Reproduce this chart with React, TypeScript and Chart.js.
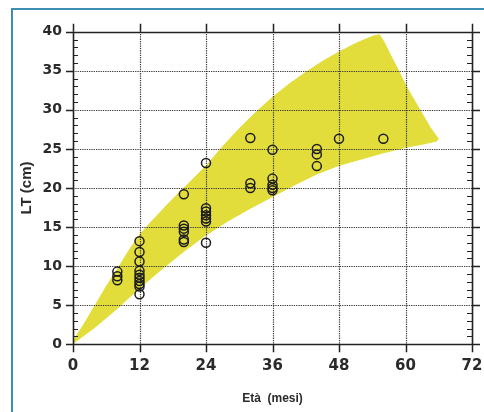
import React, { useEffect, useRef } from "react";
import { Chart, registerables } from "chart.js";

Chart.register(...registerables);

// ---- Data ----
const X_TICKS = [0, 12, 24, 36, 48, 60, 72];
const Y_TICKS = [0, 5, 10, 15, 20, 25, 30, 35, 40];

// observed lengths (cm) grouped by age (months)
const obsAges = [8, 12, 20, 24, 32, 36, 44, 48, 56];
const ltAt8 = [9.3, 8.7, 8.2];
const ltAt12 = [13.2, 11.8, 10.6, 9.4, 8.9, 8.5, 8.1, 7.7, 7.4, 6.4];
const ltAt20 = [19.2, 15.2, 14.8, 14.4, 13.4, 13.1];
const ltAt24 = [23.2, 17.4, 17.0, 16.5, 16.1, 15.7, 13.0];
const ltAt32 = [26.4, 20.6, 20.0];
const ltAt36 = [24.9, 21.2, 20.4, 20.0, 19.7];
const ltAt44 = [25.0, 24.3, 22.8];
const ltAt48 = [26.3];
const ltAt56 = [26.3];
const obsLT = [ltAt8, ltAt12, ltAt20, ltAt24, ltAt32, ltAt36, ltAt44, ltAt48, ltAt56];

// yellow growth band outline
const bandUpperAge = [0, 2, 4, 6, 8, 10, 12, 14, 16, 18, 20, 22, 24, 27, 30, 33, 36, 39, 42, 45, 48, 51, 53, 54.5, 55.3];
const bandUpperLT = [0.4, 2.6, 5.0, 7.4, 9.6, 11.9, 14.0, 15.6, 17.1, 18.6, 20.0, 21.4, 22.8, 25.3, 27.6, 29.7, 31.6, 33.3, 34.8, 36.2, 37.4, 38.5, 39.1, 39.5, 39.6];
const bandRightAge = [56.2, 57.3, 58.4, 60.2, 62.6, 64.4, 65.9, 65.6];
const bandRightLT = [38.6, 37.0, 35.5, 32.9, 30.0, 27.8, 26.3, 26.0];
const bandLowerAge = [63, 60, 56, 52, 48, 44, 40, 36, 32, 28, 24, 20, 16, 12, 8, 4, 0];
const bandLowerLT = [25.6, 25.2, 24.5, 23.7, 22.9, 21.8, 20.4, 18.9, 17.4, 15.8, 14.0, 11.9, 9.6, 7.2, 4.6, 2.2, 0.1];

const X_MIN = 0, X_MAX = 72, Y_MIN = 0, Y_MAX = 40;

const bandPoints = [
  ...bandUpperAge.map((x, i) => ({ x, y: bandUpperLT[i] })),
  ...bandRightAge.map((x, i) => ({ x, y: bandRightLT[i] })),
  ...bandLowerAge.map((x, i) => ({ x, y: bandLowerLT[i] })),
];
const obsPoints = obsAges.flatMap((a, i) => obsLT[i].map((y) => ({ x: a, y })));

const decorPlugin = {
  id: "decor",
  beforeDraw(chart: any) {
    const ctx = chart.ctx;
    ctx.save();
    ctx.fillStyle = "#ffffff";
    ctx.fillRect(0, 0, chart.width, chart.height);
    ctx.strokeStyle = "#3d8db3";
    ctx.lineWidth = 2;
    ctx.strokeRect(12, 9, chart.width + 20, chart.height + 20);
    ctx.restore();
  },
  afterDatasetDraw(chart: any, args: any) {
    if (args.index !== 0) return;
    const ctx = chart.ctx;
    const xs = chart.scales.x;
    const ys = chart.scales.y;
    const L = xs.getPixelForValue(X_MIN);
    const R = xs.getPixelForValue(X_MAX);
    const T = ys.getPixelForValue(Y_MAX);
    const B = ys.getPixelForValue(Y_MIN);
    const r = (v: number) => Math.round(v) + 0.5;
    ctx.save();
    // dotted interior grid
    ctx.strokeStyle = "#3a3a3a";
    ctx.lineWidth = 1.2;
    ctx.setLineDash([1.3, 1]);
    for (const v of Y_TICKS) {
      if (v === Y_MIN || v === Y_MAX) continue;
      const py = r(ys.getPixelForValue(v));
      ctx.beginPath();
      ctx.moveTo(L, py);
      ctx.lineTo(R, py);
      ctx.stroke();
    }
    for (const v of X_TICKS) {
      if (v === X_MIN || v === X_MAX) continue;
      const px = r(xs.getPixelForValue(v));
      ctx.beginPath();
      ctx.moveTo(px, T);
      ctx.lineTo(px, B);
      ctx.stroke();
    }
    ctx.setLineDash([]);
    ctx.strokeStyle = "#222";
    // major ticks (outward) on y axes
    ctx.lineWidth = 1.5;
    for (const v of Y_TICKS) {
      const py = r(ys.getPixelForValue(v));
      ctx.beginPath();
      ctx.moveTo(L - 7, py);
      ctx.lineTo(L, py);
      ctx.moveTo(R, py);
      ctx.lineTo(R + 8, py);
      ctx.stroke();
    }
    // major ticks on x axes (top and bottom)
    for (const v of X_TICKS) {
      const px = r(xs.getPixelForValue(v));
      ctx.beginPath();
      ctx.moveTo(px, T - 8);
      ctx.lineTo(px, T);
      ctx.moveTo(px, B);
      ctx.lineTo(px, B + 8);
      ctx.stroke();
    }
    // solid frame lines
    ctx.lineWidth = 1.6;
    ctx.beginPath();
    ctx.moveTo(L, r(T));
    ctx.lineTo(R, r(T));
    ctx.moveTo(L, r(B));
    ctx.lineTo(R, r(B));
    ctx.moveTo(r(L), T);
    ctx.lineTo(r(L), B);
    ctx.moveTo(r(R), T);
    ctx.lineTo(r(R), B);
    ctx.stroke();
    // minor ticks every 1 cm
    ctx.lineWidth = 1;
    for (let v = Y_MIN + 1; v < Y_MAX; v++) {
      if (v % 5 === 0) continue;
      const py = r(ys.getPixelForValue(v));
      ctx.beginPath();
      ctx.moveTo(L, py);
      ctx.lineTo(L + 5, py);
      ctx.moveTo(R - 5, py);
      ctx.lineTo(R, py);
      ctx.stroke();
    }
    ctx.restore();
  },
};

export default function App() {
  const ref = useRef<HTMLCanvasElement | null>(null);
  useEffect(() => {
    if (!ref.current) return;
    const tickFontY = { family: "DejaVu Sans", size: 14, weight: "bold" as const };
    const tickFontX = { family: "DejaVu Sans", size: 15, weight: "bold" as const };
    const chart = new Chart(ref.current, {
      type: "scatter",
      data: {
        datasets: [
          {
            data: bandPoints,
            showLine: true,
            fill: "shape",
            backgroundColor: "rgb(226,221,58)",
            borderColor: "rgba(226,221,58,1)",
            borderWidth: 1,
            pointRadius: 0,
            tension: 0,
            order: 2,
          } as any,
          {
            data: obsPoints,
            showLine: false,
            pointRadius: 4.5,
            pointBorderWidth: 1.5,
            borderColor: "#1c1c1c",
            backgroundColor: "rgba(0,0,0,0)",
            pointBackgroundColor: "rgba(0,0,0,0)",
            order: 1,
          } as any,
        ],
      },
      options: {
        responsive: false,
        animation: false,
        devicePixelRatio: 1,
        layout: { padding: 0 },
        plugins: { legend: { display: false }, tooltip: { enabled: false } },
        scales: {
          x: {
            type: "linear",
            position: "bottom",
            min: X_MIN,
            max: X_MAX,
            afterBuildTicks: (s: any) => { s.ticks = X_TICKS.map((v) => ({ value: v })); },
            ticks: { font: tickFontX, color: "#2a2a2a", padding: 13, maxRotation: 0, autoSkip: false },
            grid: { display: false, drawTicks: false },
            border: { display: false },
            title: {
              display: true,
              text: "Età  (mesi)",
              font: { family: "Liberation Sans", size: 12, weight: "bold" },
              color: "#2a2a2a",
              padding: { top: 0, bottom: 6 },
            },
            afterFit: (s: any) => { s.height = 67.7; s.paddingLeft = 0; s.paddingRight = 0; },
          },
          y: {
            type: "linear",
            position: "left",
            min: Y_MIN,
            max: Y_MAX,
            afterBuildTicks: (s: any) => { s.ticks = Y_TICKS.map((v) => ({ value: v })); },
            ticks: { font: tickFontY, color: "#2a2a2a", padding: 11 },
            grid: { display: false, drawTicks: false },
            border: { display: false },
            title: {
              display: true,
              text: "LT (cm)",
              font: { family: "Liberation Sans", size: 15, weight: "bold" },
              color: "#2a2a2a",
              padding: { top: 18, bottom: 0 },
            },
            afterFit: (s: any) => { s.width = 73; s.paddingTop = 0; s.paddingBottom = 0; },
          },
          x2: {
            type: "linear",
            position: "top",
            min: X_MIN,
            max: X_MAX,
            ticks: { display: false },
            grid: { display: false, drawTicks: false },
            border: { display: false },
            afterFit: (s: any) => { s.height = 31.7; s.paddingLeft = 0; s.paddingRight = 0; },
          },
          y2: {
            type: "linear",
            position: "right",
            min: Y_MIN,
            max: Y_MAX,
            ticks: { display: false },
            grid: { display: false, drawTicks: false },
            border: { display: false },
            afterFit: (s: any) => { s.width = 12; s.paddingTop = 0; s.paddingBottom = 0; },
          },
        },
      } as any,
      plugins: [decorPlugin],
    });
    return () => chart.destroy();
  }, []);
  return (
    <div style={{ position: "absolute", left: 0, top: 0, width: 484, height: 412 }}>
      <canvas ref={ref} width={484} height={412} />
    </div>
  );
}
